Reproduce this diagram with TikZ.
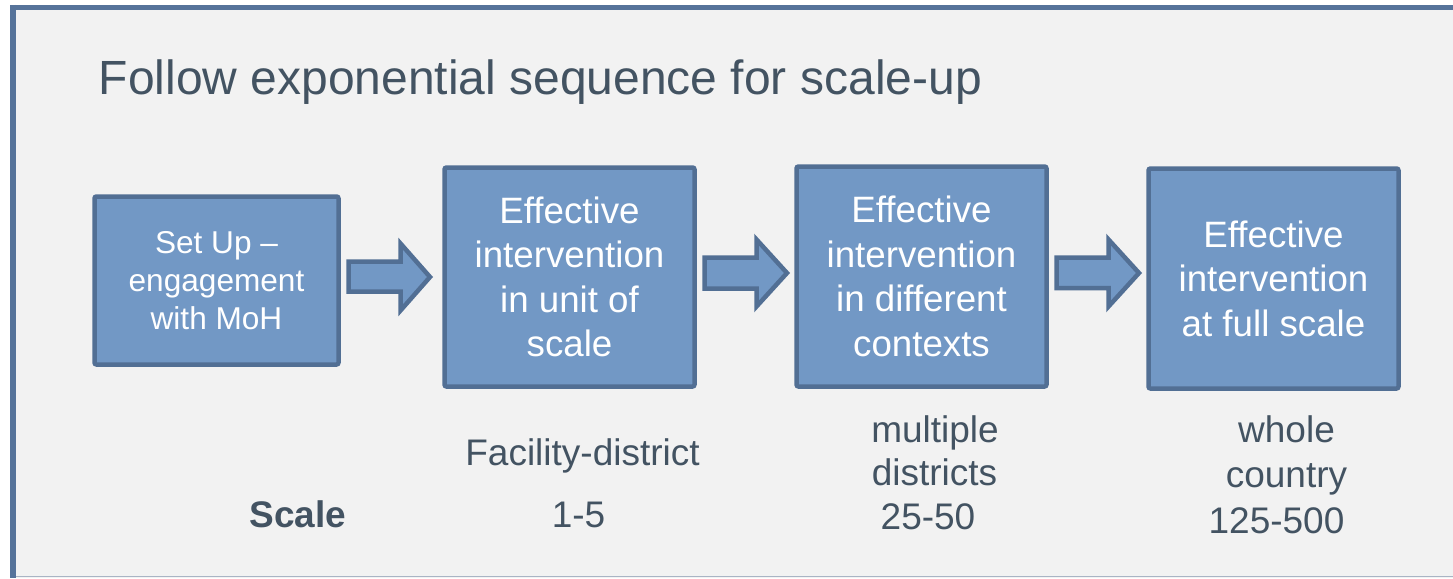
\documentclass[tikz,border=0pt]{standalone}
\usepackage{fontspec}
\setmainfont{Liberation Sans}
\definecolor{bgfill}{HTML}{F2F2F2}
\definecolor{frameline}{HTML}{56739A}
\definecolor{framelow}{HTML}{A9B4C4}
\definecolor{boxfill}{HTML}{7298C5}
\definecolor{boxline}{HTML}{526F94}
\definecolor{textdark}{HTML}{435362}
\begin{document}
\begin{tikzpicture}[x=1pt,y=-1pt,
  box/.style={draw=boxline, fill=boxfill, line width=4.5pt, rounded corners=2pt,
    inner sep=0pt, text=white, align=center},
  bigtxt/.style={font=\fontsize{36.7}{44.5}\selectfont},
  smalltxt/.style={font=\fontsize{31.6}{38}\selectfont},
  blockarrow/.style={draw=boxline, fill=boxfill, line width=4.5pt, line join=miter},
  lbl/.style={text=textdark, inner sep=0pt, anchor=base, font=\fontsize{37}{44}\selectfont}]
\useasboundingbox (0,0) rectangle (1453,578);
% frame
\fill[white] (0,0) rectangle (1453,578);
\fill[bgfill] (10,5) rectangle (1453,578);
\draw[framelow, line width=1.5pt] (10,576.5) -- (1453,576.5);
\draw[frameline, line width=6pt] (13,5) -- (13,578);
\draw[frameline, line width=5pt] (10,7.5) -- (1453,7.5);
% title
\node[text=textdark, inner sep=0pt, anchor=base west, font=\fontsize{48}{57}\selectfont]
  (title) at (98.5,94) {Follow exponential sequence for scale-up};
% boxes
\node[box, smalltxt, minimum width=244pt, minimum height=168pt] (b1) at (216.5,280.5)
  {Set Up --\\engagement\\with MoH};
\node[box, bigtxt, minimum width=250pt, minimum height=219pt] (b2) at (569.5,277)
  {Effective\\intervention\\in unit of\\scale};
\node[box, bigtxt, minimum width=250pt, minimum height=220pt] (b3) at (921.5,276.5)
  {Effective\\intervention\\in different\\contexts};
\node[box, bigtxt, minimum width=250pt, minimum height=220pt] (b4) at (1273.5,278.5)
  {Effective\\intervention\\at full scale};
% block arrows
\draw[blockarrow] (348.5,261.5) -- (400.5,261.5) -- (400.5,243.5) -- (430,277)
  -- (400.5,310.5) -- (400.5,291.5) -- (348.5,291.5) -- cycle;
\draw[blockarrow] (704.5,257.5) -- (756.5,257.5) -- (756.5,239.5) -- (787,273)
  -- (756.5,306.5) -- (756.5,288.5) -- (704.5,288.5) -- cycle;
\draw[blockarrow] (1056.5,257.5) -- (1108.5,257.5) -- (1108.5,239.5) -- (1139,273)
  -- (1108.5,306.5) -- (1108.5,288) -- (1056.5,288) -- cycle;
% labels
\node[lbl] (l1) at (582.5,465) {Facility-district};
\node[lbl, font=\fontsize{37}{44}\selectfont\bfseries] (scale) at (298,527) {Scale};
\node[lbl] (n1) at (578.5,527) {1-5};
\node[lbl] (l2a) at (935,442) {multiple};
\node[lbl] (l2b) at (934.5,485) {districts};
\node[lbl] (n2) at (928,529) {25-50};
\node[lbl] (l3a) at (1286.5,442) {whole};
\node[lbl] (l3b) at (1286.5,487) {country};
\node[lbl] (n3) at (1276.5,533) {125-500};
\end{tikzpicture}
\end{document}
